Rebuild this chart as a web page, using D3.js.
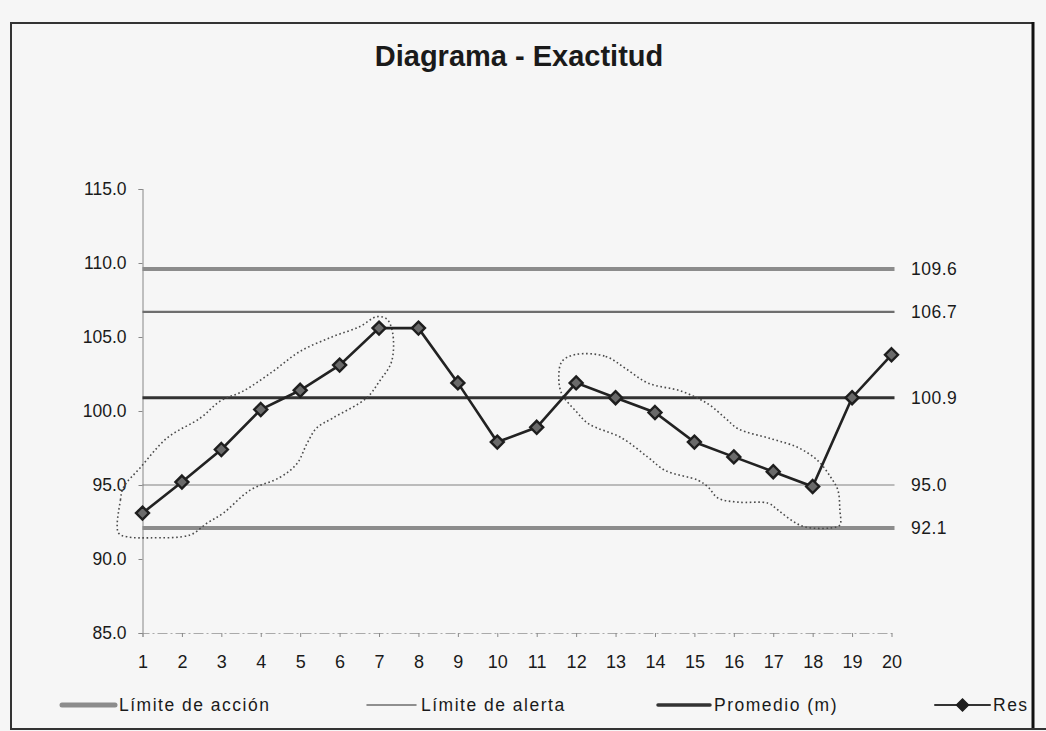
<!DOCTYPE html>
<html>
<head>
<meta charset="utf-8">
<script src="https://cdn.jsdelivr.net/npm/d3@7"></script>
<style>
  html, body { margin: 0; padding: 0; background: #f6f6f6; }
  svg { display: block; font-family: "Liberation Sans", Arial, sans-serif; }
</style>
</head>
<body>
<svg id="chart" width="1046" height="731"></svg>
<script>
// ---------- DATA ----------
const title = "Diagrama - Exactitud";
const samples = [1,2,3,4,5,6,7,8,9,10,11,12,13,14,15,16,17,18,19,20];
const results = [93.1,95.2,97.4,100.1,101.4,103.1,105.6,105.6,101.9,97.9,98.9,101.9,100.9,99.9,97.9,96.9,95.9,94.9,100.9,103.8];
const yTicks = [85,90,95,100,105,110,115];
const actionLimits = [109.6, 92.1];
const alertLimits = [106.7, 95.0];
const meanValue = [100.9];
// the last legend label is cut by the frame in the original ("Res…")
const legendLabels = ["Límite de acción", "Límite de alerta", "Promedio (m)", "Res"];
// hand-drawn annotation loops, in (sample, value) units
const loopA = [[0.39,91.76],[0.44,93.98],[0.52,94.85],[0.95,96.19],[1.63,98.19],[2.47,99.53],[2.97,100.67],[3.55,101.34],[4.31,102.68],[4.99,104.02],[5.83,105.03],[6.51,105.7],[6.94,106.37],[7.19,106.23],[7.34,105.36],[7.32,103.35],[7.01,102.01],[6.68,100.87],[5.83,99.53],[5.42,98.86],[5.17,97.79],[4.92,96.45],[4.49,95.52],[3.73,94.65],[3.05,93.1],[2.64,92.43],[2.21,91.63],[1.2,91.43],[0.62,91.5]];
const loopB = [[11.99,103.82],[12.75,103.69],[13.25,102.88],[13.83,101.88],[14.67,101.34],[15.35,100.47],[15.78,99.53],[16.11,98.8],[16.94,98.13],[17.63,97.53],[18.13,96.65],[18.46,95.52],[18.64,94.65],[18.69,93.31],[18.69,92.3],[18.46,92.1],[17.8,92.17],[17.45,92.64],[17.12,93.31],[16.87,93.77],[16.11,93.84],[15.6,94.11],[15.35,94.85],[15.1,95.31],[14.26,95.98],[13.83,96.86],[13.15,98.19],[12.32,99.13],[11.99,100.0],[11.64,101.14],[11.56,102.21],[11.64,103.35]];

// ---------- CHART ----------
const svg = d3.select("#chart");
const W = 1046, H = 731;
svg.append("rect").attr("width", W).attr("height", H).attr("fill", "#f6f6f6");

const x = d3.scaleLinear().domain([1, 20]).range([142.5, 891.5]);
const y = d3.scaleLinear().domain([85, 115]).range([633, 189]);

// frame
const frame = svg.append("g").attr("fill", "none");
frame.append("path").attr("d", "M11,729 L11,23 L1033,23").attr("stroke", "#333").attr("stroke-width", 2);
frame.append("line").attr("x1", 1033).attr("x2", 1033).attr("y1", 22).attr("y2", 729).attr("stroke", "#111").attr("stroke-width", 3);
frame.append("line").attr("x1", 10).attr("x2", 1046).attr("y1", 729).attr("y2", 729).attr("stroke", "#333").attr("stroke-width", 2);

// title
svg.append("text").attr("x", 519).attr("y", 66).attr("text-anchor", "middle")
  .attr("font-size", 29).attr("font-weight", "bold").attr("fill", "#1a1a1a").text(title);

// axes
const yAxis = d3.axisLeft(y).tickValues(yTicks).tickSize(4).tickPadding(12).tickFormat(d3.format(".1f"));
const gy = svg.append("g").attr("transform", `translate(${x(1)},0)`).call(yAxis);
gy.select(".domain").attr("stroke", "#9a9a9a").attr("stroke-width", 1.2);
gy.selectAll(".tick line").attr("stroke", "#888");
gy.selectAll(".tick text").attr("font-size", 17.5).attr("fill", "#1a1a1a").attr("font-family", "Liberation Sans, Arial, sans-serif");

const xAxis = d3.axisBottom(x).tickValues(samples).tickSize(4).tickPadding(18).tickFormat(d3.format("d"));
const gx = svg.append("g").attr("transform", `translate(0,${y(85)})`).call(xAxis);
gx.select(".domain").attr("stroke", "#aaa").attr("stroke-width", 1).attr("stroke-dasharray", "10 3 2 3");
gx.selectAll(".tick line").attr("stroke", "#888");
gx.selectAll(".tick text").attr("font-size", 18).attr("fill", "#1a1a1a").attr("font-family", "Liberation Sans, Arial, sans-serif");

// reference lines
const refs = [
  {v: actionLimits[0], stroke: "#8c8c8c", w: 4},
  {v: alertLimits[0], stroke: "#6e6e6e", w: 2.2},
  {v: meanValue[0], stroke: "#333", w: 3},
  {v: alertLimits[1], stroke: "#808080", w: 1.2},
  {v: actionLimits[1], stroke: "#8c8c8c", w: 4}
];
const gr = svg.append("g");
gr.selectAll("line").data(refs).join("line")
  .attr("x1", x(1)).attr("x2", x(20) + 3)
  .attr("y1", d => y(d.v)).attr("y2", d => y(d.v))
  .attr("stroke", d => d.stroke).attr("stroke-width", d => d.w);
gr.selectAll("text").data(refs).join("text")
  .attr("x", 911).attr("y", d => y(d.v)).attr("dy", "0.36em")
  .attr("font-size", 17.5).attr("letter-spacing", 0.5).attr("fill", "#1a1a1a")
  .text(d => d3.format(".1f")(d.v));

// annotation loops
const loopLine = d3.line().x(d => x(d[0])).y(d => y(d[1])).curve(d3.curveCatmullRomClosed.alpha(0.5));
svg.append("g").selectAll("path").data([loopA, loopB]).join("path")
  .attr("d", loopLine).attr("fill", "none").attr("stroke", "#4a4a4a")
  .attr("stroke-width", 1.6).attr("stroke-dasharray", "1.6 2.6");

// results series
const pts = samples.map((s, i) => [s, results[i]]);
svg.append("path").datum(pts)
  .attr("d", d3.line().x(d => x(d[0])).y(d => y(d[1])))
  .attr("fill", "none").attr("stroke", "#222").attr("stroke-width", 2.6);
const diamond = "M0,-6.5 L6.5,0 L0,6.5 L-6.5,0 Z";
svg.append("g").selectAll("path").data(pts).join("path")
  .attr("transform", d => `translate(${x(d[0])},${y(d[1])})`)
  .attr("d", diamond).attr("fill", "#6a6a6a").attr("stroke", "#1e1e1e").attr("stroke-width", 2.4);

// legend
const lg = svg.append("g");
const ly = 705;
const legendItems = [
  {x1: 62, x2: 115, tx: 119, stroke: "#8c8c8c", w: 5, marker: false},
  {x1: 367, x2: 416, tx: 421, stroke: "#6e6e6e", w: 1.5, marker: false},
  {x1: 658, x2: 710, tx: 714, stroke: "#333", w: 3.5, marker: false},
  {x1: 935, x2: 990, tx: 993, stroke: "#333", w: 2, marker: true}
];
const items = lg.selectAll("g").data(legendItems).join("g");
items.append("line").attr("x1", d => d.x1).attr("x2", d => d.x2).attr("y1", ly).attr("y2", ly)
  .attr("stroke", d => d.stroke).attr("stroke-width", d => d.w).attr("stroke-linecap", "round");
items.filter(d => d.marker).append("path")
  .attr("transform", d => `translate(${(d.x1 + d.x2) / 2},${ly})`)
  .attr("d", "M0,-6 L6,0 L0,6 L-6,0 Z").attr("fill", "#1e1e1e").attr("stroke", "#1e1e1e").attr("stroke-width", 1.5);
items.append("text").attr("x", d => d.tx).attr("y", ly).attr("dy", "0.36em")
  .attr("font-size", 17.5).attr("letter-spacing", 1.5).attr("fill", "#1a1a1a")
  .text((d, i) => legendLabels[i]);
</script>
</body>
</html>
